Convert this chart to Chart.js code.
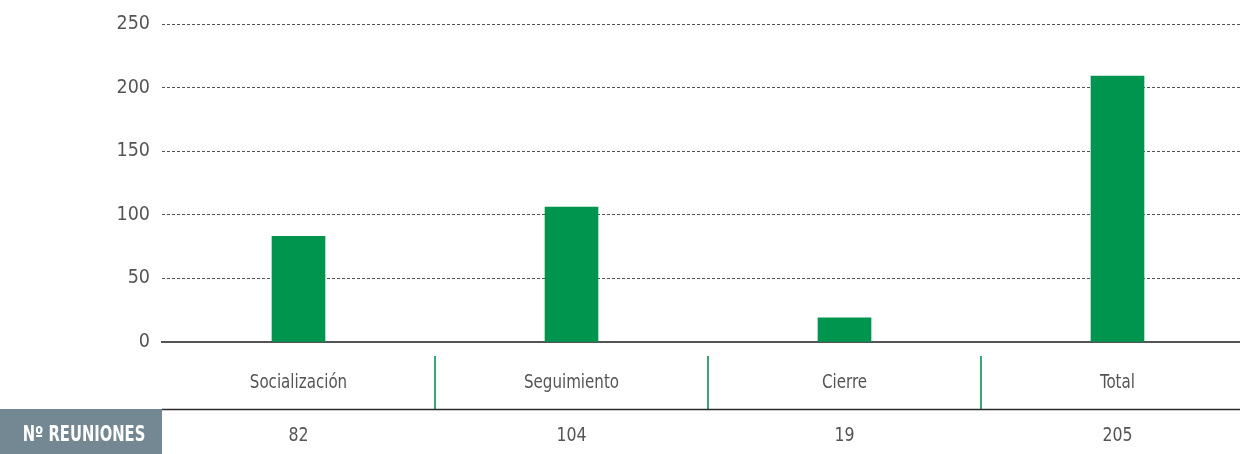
<!DOCTYPE html>
<html>
<head>
<meta charset="utf-8">
<script src="https://cdn.jsdelivr.net/npm/chart.js@4/dist/chart.umd.min.js"></script>
<style>
html, body { margin: 0; padding: 0; background: #ffffff; overflow: hidden; width: 1240px; height: 454px; }
#wrap { position: relative; width: 1254px; height: 454px; }
</style>
</head>
<body>
<div id="wrap"><canvas id="c"></canvas></div>
<script>
const categories = ['Socialización', 'Seguimiento', 'Cierre', 'Total'];
const barValues = [83, 106, 19, 209];
const tableValues = ['82', '104', '19', '205'];
const rowLabel = 'Nº REUNIONES';
const yTicks = [0, 50, 100, 150, 200, 250];

const FONT = '"DejaVu Sans Condensed", "DejaVu Sans", sans-serif';
const TEXT = '#555555';

function narrowText(ctx, text, cx, cy, sx) {
  ctx.save();
  ctx.translate(cx, cy);
  ctx.scale(sx, 1);
  ctx.fillText(text, 0, 0);
  ctx.restore();
}

const tablePlugin = {
  id: 'tablePlugin',
  afterDraw(chart) {
    const ctx = chart.ctx;
    const x = chart.scales.x;
    const area = chart.chartArea;
    const n = categories.length;
    const rowLineY = 409.5;
    ctx.save();
    ctx.font = '19.5px ' + FONT;
    ctx.fillStyle = TEXT;
    ctx.textAlign = 'center';
    ctx.textBaseline = 'middle';
    categories.forEach((c, i) => {
      narrowText(ctx, c, x.getPixelForValue(i), 383, 0.86);
    });
    tableValues.forEach((v, i) => {
      narrowText(ctx, v, x.getPixelForValue(i), 436, 0.9);
    });
    ctx.strokeStyle = '#3aa872';
    ctx.lineWidth = 2;
    for (let i = 0; i < n - 1; i++) {
      const px = Math.round(x.getPixelForValue(i + 0.5));
      ctx.beginPath();
      ctx.moveTo(px, 356);
      ctx.lineTo(px, 409);
      ctx.stroke();
    }
    ctx.strokeStyle = '#2b2b2b';
    ctx.lineWidth = 1.5;
    ctx.beginPath();
    ctx.moveTo(area.left, rowLineY);
    ctx.lineTo(chart.width, rowLineY);
    ctx.stroke();
    ctx.fillStyle = '#748893';
    ctx.fillRect(0, 409, area.left, 454 - 409);
    ctx.fillStyle = '#ffffff';
    ctx.font = 'bold 20.5px ' + FONT;
    narrowText(ctx, rowLabel, 84, 436, 0.8);
    ctx.restore();
  }
};

new Chart(document.getElementById('c'), {
  type: 'bar',
  data: {
    labels: categories,
    datasets: [{
      data: barValues,
      backgroundColor: '#00954f',
      borderWidth: 0,
      barThickness: 53
    }]
  },
  options: {
    responsive: true,
    maintainAspectRatio: false,
    animation: false,
    layout: { padding: { top: 24, bottom: 112, left: 0, right: 0 } },
    plugins: {
      legend: { display: false },
      tooltip: { enabled: false }
    },
    scales: {
      x: {
        z: 1,
        offset: true,
        grid: { display: false, drawTicks: false },
        border: { display: true, color: '#555555', width: 2 },
        ticks: { display: false }
      },
      y: {
        min: 0,
        max: 250,
        afterBuildTicks(scale) { scale.ticks = yTicks.map(v => ({ value: v })); },
        afterFit(scale) { scale.width = 162; },
        grid: { color: '#555555', lineWidth: 1, drawTicks: false },
        border: { display: false, dash: [3, 2] },
        ticks: {
          padding: 12,
          color: TEXT,
          font: { family: FONT, size: 19.5 }
        }
      }
    }
  },
  plugins: [tablePlugin]
});
</script>
</body>
</html>
